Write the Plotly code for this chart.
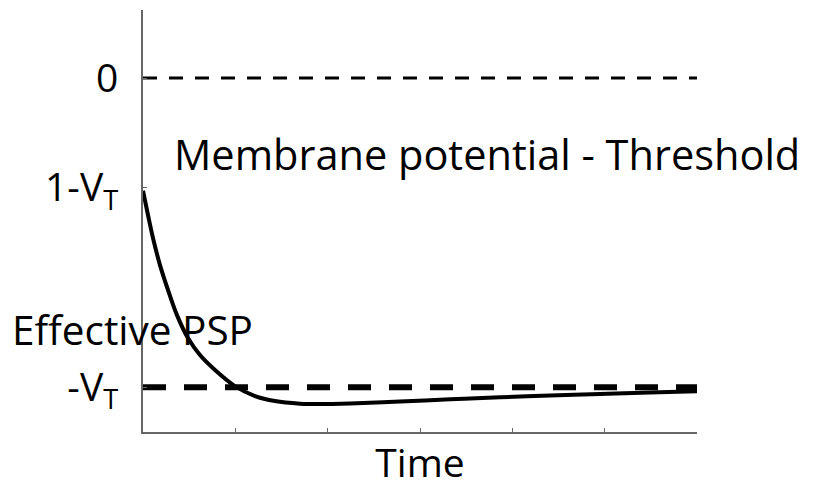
import plotly.graph_objects as go

# Data
VT = 1.55
time = [0.0, 0.054, 0.108, 0.184, 0.271, 0.368, 0.487, 0.617, 0.780, 0.996,
        1.213, 1.429, 1.700, 1.917, 2.242, 2.783, 3.325, 3.867, 4.408, 4.950,
        5.491, 6.0]
psp = [-0.565, -0.687, -0.802, -0.938, -1.063, -1.189, -1.304, -1.389, -1.464,
       -1.545, -1.595, -1.620, -1.633, -1.635, -1.632, -1.622, -1.611, -1.601,
       -1.592, -1.584, -1.577, -1.571]
tick_vals = [0, 1 - VT, -VT]
tick_text = ["0", "1-V<sub>T</sub>", "-V<sub>T</sub>"]
x_ticks = [0, 1, 2, 3, 4, 5, 6]

FONT = "Open Sans"
FS = 39
fig = go.Figure()
fig.add_trace(go.Scatter(x=[0, 6], y=[0, 0], mode="lines",
                         line=dict(color="black", width=3, dash="14px,12px"),
                         hoverinfo="skip"))
fig.add_trace(go.Scatter(x=time, y=psp, mode="lines",
                         line=dict(color="black", width=4, shape="spline"),
                         hoverinfo="skip"))
fig.add_trace(go.Scatter(x=[0, 6], y=[-VT, -VT], mode="lines",
                         line=dict(color="black", width=6, dash="23px,18px"),
                         hoverinfo="skip"))

fig.update_layout(
    width=821, height=492,
    margin=dict(l=135, r=132, t=2, b=68),
    paper_bgcolor="white", plot_bgcolor="white",
    showlegend=False,
    font=dict(family=FONT, size=FS, color="black"),
    xaxis=dict(range=[0, 6], tickvals=x_ticks, showticklabels=False,
               ticks="inside", ticklen=4, tickcolor="#666", tickwidth=1,
               showline=True, linecolor="#666", linewidth=2, showgrid=False,
               zeroline=False,
               title=dict(text="Time", font=dict(size=39), standoff=17)),
    yaxis=dict(range=[-1.775, 0.341], tickvals=tick_vals, ticktext=tick_text,
               ticks="inside", ticklen=4, tickcolor="#666", tickwidth=1,
               showline=True, linecolor="#666", linewidth=2, showgrid=False,
               zeroline=False, ticklabelstandoff=15,
               tickfont=dict(size=FS)),
)
fig.add_annotation(x=0.31, xref="x", y=-0.38, yref="y", xanchor="left",
                   yanchor="middle", text="Membrane potential - Threshold",
                   showarrow=False, font=dict(size=41.5))
fig.add_annotation(x=-133 / 554, xref="paper", y=-1.26, yref="y",
                   xanchor="left", yanchor="middle", text="Effective PSP",
                   showarrow=False, font=dict(size=40.5))
fig.write_html("out.html")
